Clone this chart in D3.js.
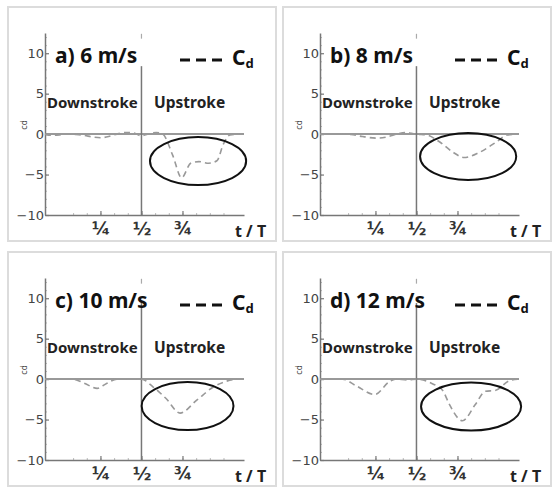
<!DOCTYPE html>
<html>
<head>
<meta charset="utf-8">
<script src="https://cdn.jsdelivr.net/npm/d3@7"></script>
<style>
  body { margin: 0; background: #fff; }
  svg { display: block; }
</style>
</head>
<body>
<div id="chart"></div>
<script>
// panel titles (flight speed)
const panelTitles = ["a) 6 m/s", "b) 8 m/s", "c) 10 m/s", "d) 12 m/s"]

// t/T and Cd
const t6  = [-0.088, -0.05, 0, 0.05, 0.1, 0.15, 0.2, 0.25, 0.3, 0.35, 0.4, 0.45, 0.5, 0.55, 0.59, 0.63, 0.69, 0.745, 0.8, 0.85, 0.91, 0.96, 1.0, 1.04, 1.125]
const cd6 = [0, -0.15, -0.1, 0, -0.05, -0.15, -0.35, -0.45, -0.3, 0, 0.2, 0.15, -0.2, 0.05, 0.2, 0, -2.6, -5.4, -3.6, -3.4, -3.6, -3.3, -1.2, -0.1, 0]

const t8  = [-0.088, 0, 0.1, 0.17, 0.26, 0.33, 0.38, 0.43, 0.47, 0.5, 0.56, 0.64, 0.72, 0.79, 0.88, 0.985, 1.056, 1.125]
const cd8 = [0, 0, -0.05, -0.3, -0.5, -0.3, 0, 0.2, 0.1, 0, -0.1, -0.95, -2.2, -2.9, -2.3, -1.0, -0.1, 0]

const t10  = [-0.088, 0.08, 0.15, 0.23, 0.29, 0.35, 0.5, 0.57, 0.65, 0.735, 0.837, 0.94, 1.02, 1.1, 1.125]
const cd10 = [0, 0, -0.5, -1.15, -0.5, 0, 0, -0.95, -2.4, -4.2, -2.6, -0.95, -0.25, 0, 0]

const t12  = [-0.088, 0.05, 0.13, 0.247, 0.33, 0.37, 0.45, 0.5, 0.6, 0.66, 0.7, 0.78, 0.86, 0.92, 0.98, 1.066, 1.125]
const cd12 = [0, 0, -0.8, -1.9, -0.4, 0, -0.1, 0, -0.6, -1.4, -3.1, -5.15, -3.1, -1.5, -1.4, -0.2, 0]

// circled region per panel: centre t, centre Cd, half width (t), half height (Cd)
const ring6  = [0.845, -3.33, 0.293, 2.97]
const ring8  = [0.815, -2.77, 0.293, 2.9]
const ring10 = [0.781, -3.33, 0.28, 2.97]
const ring12 = [0.833, -3.39, 0.305, 2.97]

// top of the mid-stroke divider line (Cd units)
const dividerTop = [8.4, 8.4, 9.6, 9.4]

const xTickValues = [0.25, 0.5, 0.75]
const xTickLabels = ["\u00BC", "\u00BD", "\u00BE"]
const yTickValues = [-10, -5, 0, 5, 10]

const panelData = [
  { title: panelTitles[0], t: t6,  cd: cd6,  ring: ring6,  top: dividerTop[0] },
  { title: panelTitles[1], t: t8,  cd: cd8,  ring: ring8,  top: dividerTop[1] },
  { title: panelTitles[2], t: t10, cd: cd10, ring: ring10, top: dividerTop[2] },
  { title: panelTitles[3], t: t12, cd: cd12, ring: ring12, top: dividerTop[3] },
]

const width = 552, height = 488
const offsets = [[0, 0], [275, 0], [0, 245], [275, 245]]
const boldFont = "'Noto Sans', sans-serif"
const tickFont = "'DejaVu Sans', sans-serif"

const svg = d3.select("#chart").append("svg")
  .attr("width", width)
  .attr("height", height)

const xScale = d3.scaleLinear().domain([-0.088, 1.125]).range([45, 244])
const yScale = d3.scaleLinear().domain([-10, 12.5]).range([215, 33])

panelData.forEach((p, i) => drawPanel(p, offsets[i]))

function drawPanel(p, off) {
  const g = svg.append("g").attr("transform", `translate(${off[0]},${off[1]})`)

  // panel frame
  g.append("rect")
    .attr("x", 8).attr("y", 7).attr("width", 268).attr("height", 234)
    .attr("fill", "#fff")
    .attr("stroke", "#dcdcdc")
    .attr("stroke-width", 2)

  // minor ticks
  const minorY = d3.range(-10, 13, 1)
  g.append("g")
    .attr("transform", `translate(${xScale.range()[0]},0)`)
    .call(d3.axisLeft(yScale).tickValues(minorY).tickSize(-2).tickFormat(""))
    .call(a => a.select(".domain").remove())
    .call(a => a.selectAll("line").attr("stroke", "#bbb"))

  const minorX = d3.range(1, 13).map(k => k / 12)
  g.append("g")
    .attr("transform", `translate(0,${yScale(-10)})`)
    .call(d3.axisBottom(xScale).tickValues(minorX).tickSize(-2).tickFormat(""))
    .call(a => a.select(".domain").remove())
    .call(a => a.selectAll("line").attr("stroke", "#bbb"))

  // left axis
  g.append("g")
    .attr("transform", `translate(${xScale.range()[0]},0)`)
    .call(d3.axisLeft(yScale).tickValues(yTickValues).tickSizeInner(-4).tickSizeOuter(0).tickPadding(1))
    .call(a => a.select(".domain").attr("stroke", "#777").attr("stroke-width", 1.5))
    .call(a => a.selectAll("line").attr("stroke", "#777").attr("stroke-width", 1.2))
    .call(a => a.selectAll("text")
      .style("font-family", tickFont)
      .style("font-size", "13px")
      .attr("fill", "#444"))

  // bottom axis
  g.append("g")
    .attr("transform", `translate(0,${yScale(-10)})`)
    .call(d3.axisBottom(xScale).tickValues(xTickValues)
      .tickFormat((d, k) => xTickLabels[k])
      .tickSizeInner(-4).tickSizeOuter(0).tickPadding(7))
    .call(a => a.select(".domain").attr("stroke", "#777").attr("stroke-width", 1.5))
    .call(a => a.selectAll("line").attr("stroke", "#777").attr("stroke-width", 1.2))
    .call(a => a.selectAll("text")
      .style("font-family", tickFont)
      .style("font-weight", "bold")
      .style("font-size", "18px")
      .attr("fill", "#333"))

  // zero line
  g.append("line")
    .attr("x1", xScale.range()[0]).attr("x2", xScale.range()[1])
    .attr("y1", yScale(0)).attr("y2", yScale(0))
    .attr("stroke", "#777").attr("stroke-width", 1.5)

  // downstroke / upstroke divider
  g.append("line")
    .attr("x1", xScale(0.5)).attr("x2", xScale(0.5))
    .attr("y1", yScale(p.top)).attr("y2", yScale(-10))
    .attr("stroke", "#777").attr("stroke-width", 1.5)
  g.append("line")
    .attr("x1", xScale(0.5)).attr("x2", xScale(0.5))
    .attr("y1", yScale(12.4)).attr("y2", yScale(11.8))
    .attr("stroke", "#aaa").attr("stroke-width", 1.2)

  // Cd curve
  const pts = p.t.map((t, k) => ({ x: t, y: p.cd[k] }))
  const line = d3.line()
    .x(d => xScale(d.x))
    .y(d => yScale(d.y))
    .curve(d3.curveMonotoneX)
  g.append("path")
    .datum(pts)
    .attr("d", line)
    .attr("fill", "none")
    .attr("stroke", "#999")
    .attr("stroke-width", 1.6)
    .attr("stroke-dasharray", "6,4")

  // circled region
  const r = p.ring
  g.append("ellipse")
    .attr("cx", xScale(r[0]))
    .attr("cy", yScale(r[1]))
    .attr("rx", xScale(r[0] + r[2]) - xScale(r[0]))
    .attr("ry", yScale(r[1] - r[3]) - yScale(r[1]))
    .attr("fill", "none")
    .attr("stroke", "#111")
    .attr("stroke-width", 2)

  // title
  g.append("text")
    .attr("x", 55).attr("y", 63)
    .style("font-family", boldFont)
    .style("font-weight", "bold")
    .style("font-size", "21px")
    .attr("fill", "#111")
    .text(p.title)

  // legend
  g.append("line")
    .attr("x1", 180).attr("x2", 222)
    .attr("y1", 60).attr("y2", 60)
    .attr("stroke", "#111").attr("stroke-width", 3)
    .attr("stroke-dasharray", "10,6")
  const leg = g.append("text")
    .attr("x", 232).attr("y", 65)
    .style("font-family", boldFont)
    .style("font-weight", "bold")
    .style("font-size", "21px")
    .attr("fill", "#111")
    .text("C")
  leg.append("tspan")
    .attr("dy", 3)
    .style("font-size", "13px")
    .text("d")

  // stroke labels
  g.append("text")
    .attr("x", 47).attr("y", 108)
    .style("font-family", boldFont)
    .style("font-weight", "bold")
    .style("font-size", "15px")
    .attr("fill", "#222")
    .text("Downstroke")
  g.append("text")
    .attr("x", 154).attr("y", 108)
    .style("font-family", boldFont)
    .style("font-weight", "bold")
    .style("font-size", "15.5px")
    .attr("fill", "#222")
    .text("Upstroke")

  // x label
  g.append("text")
    .attr("x", 235).attr("y", 237)
    .style("font-family", boldFont)
    .style("font-weight", "bold")
    .style("font-size", "16px")
    .attr("fill", "#222")
    .text("t / T")

  // y label
  g.append("text")
    .attr("transform", "translate(27,125)rotate(-90)")
    .attr("text-anchor", "middle")
    .style("font-family", tickFont)
    .style("font-size", "8px")
    .attr("fill", "#444")
    .text("cd")
}
</script>
</body>
</html>
